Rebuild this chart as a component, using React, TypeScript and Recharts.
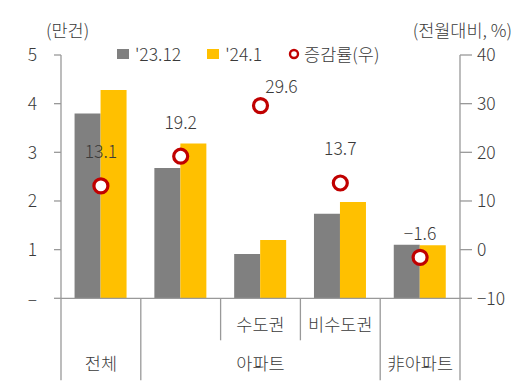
import { ComposedChart, Bar, Line, XAxis, YAxis, Legend, LabelList } from "recharts";

const CATEGORIES = ["전체", "아파트", "수도권", "비수도권", "非아파트"];
const SUB_LABELS = ["", "", "수도권", "비수도권", ""];
const GROUPS = [
  { name: "전체", first: 0, last: 0 },
  { name: "아파트", first: 1, last: 3 },
  { name: "非아파트", first: 4, last: 4 },
];
const DEC_2023 = [3.8, 2.68, 0.91, 1.74, 1.1];
const JAN_2024 = [4.28, 3.18, 1.2, 1.98, 1.09];
const CHANGE_RATE = [13.1, 19.2, 29.6, 13.7, -1.6];
const LEFT_TICKS = [0, 1, 2, 3, 4, 5];
const RIGHT_TICKS = [-10, 0, 10, 20, 30, 40];

const data = CATEGORIES.map((name, i) => ({
  name,
  dec: DEC_2023[i],
  jan: JAN_2024[i],
  rate: CHANGE_RATE[i],
}));

const W = 532;
const H = 389;
const LEFT_W = 61;
const RIGHT_W = 72;
const PLOT_W = W - LEFT_W - RIGHT_W;
const FONT = "'Noto Sans CJK KR', 'Noto Sans', sans-serif";
const TEXT = "#3a3a3a";
const AXIS = "#999";
const FS = 17.5;
const WEIGHT = 300;

// label nudges for the rate markers (dx, dy)
const LABEL_SHIFT = [[0, -35], [0, -35], [21, -20], [0, -35], [0, -25]];

const fmt = (v: number) => (v < 0 ? "−" + Math.abs(v) : String(v));

function CategoryTick(props: any) {
  const { x, y, index } = props;
  const step = PLOT_W / CATEGORIES.length;
  const left = x - step / 2;
  const g = GROUPS.find((g) => index >= g.first && index <= g.last)!;
  const startsGroup = g.first === index;
  const showGroup = (g.first + g.last) / 2 === index;
  return (
    <g>
      <line x1={left} x2={left} y1={y} y2={startsGroup ? y + 82 : y + 42} stroke={AXIS} strokeWidth={1.3} />
      {index === CATEGORIES.length - 1 && (
        <line x1={left + step} x2={left + step} y1={y} y2={y + 82} stroke={AXIS} strokeWidth={1.3} />
      )}
      {SUB_LABELS[index] && (
        <text x={x} y={y + 25} textAnchor="middle" dominantBaseline="central" fill={TEXT} fontSize={FS} fontWeight={WEIGHT}>
          {SUB_LABELS[index]}
        </text>
      )}
      {showGroup && (
        <text x={x} y={y + 64} textAnchor="middle" dominantBaseline="central" fill={TEXT} fontSize={FS} fontWeight={WEIGHT}>
          {g.name}
        </text>
      )}
    </g>
  );
}

function RateLabel(props: any) {
  const { x, y, value, index } = props;
  const [dx, dy] = LABEL_SHIFT[index];
  return (
    <text x={x + dx} y={y + dy} textAnchor="middle" dominantBaseline="central" fill={TEXT} fontSize={FS} fontWeight={WEIGHT}>
      {fmt(value)}
    </text>
  );
}

function LegendBox(props: any) {
  const items = props.payload || [];
  return (
    <div style={{ display: "flex", alignItems: "center", fontSize: FS, fontWeight: WEIGHT, lineHeight: 1, color: TEXT, fontFamily: FONT, whiteSpace: "nowrap" }}>
      {items.map((it: any, i: number) => (
        <div key={i} style={{ display: "flex", alignItems: "center", marginRight: 26 }}>
          {it.type === "line" ? (
            <svg width={12} height={12} style={{ marginRight: 4 }}>
              <circle cx={6} cy={6} r={4} fill="#fff" stroke="#C00000" strokeWidth={2.4} />
            </svg>
          ) : (
            <span style={{ display: "inline-block", width: 12, height: 10, background: it.color, marginRight: 6 }} />
          )}
          <span>{it.value}</span>
        </div>
      ))}
    </div>
  );
}

const headStyle = { position: "absolute" as const, top: 21, fontSize: FS, fontWeight: WEIGHT, lineHeight: 1, color: TEXT };

export default function App() {
  return (
    <div style={{ position: "absolute", left: 0, top: 0, width: W, height: H, background: "#fff", fontFamily: FONT }}>
      <div style={{ ...headStyle, left: 46 }}>(만건)</div>
      <div style={{ ...headStyle, right: 20 }}>(전월대비, %)</div>
      <ComposedChart
        width={W}
        height={H}
        data={data}
        margin={{ top: 55, right: 0, bottom: 0, left: 0 }}
        barCategoryGap="17%"
        barGap={0}
      >
        <XAxis
          dataKey="name"
          height={90.7}
          tickSize={0}
          tickMargin={0}
          tickLine={false}
          axisLine={{ stroke: AXIS, strokeWidth: 1.3 }}
          tick={<CategoryTick />}
          interval={0}
        />
        <YAxis
          yAxisId="left"
          width={LEFT_W}
          domain={[0, 5]}
          ticks={LEFT_TICKS}
          tickSize={7}
          tickMargin={17}
          tickFormatter={(v: number) => (v === 0 ? "–" : String(v))}
          tick={{ fill: TEXT, fontSize: FS, fontWeight: WEIGHT }}
          axisLine={{ stroke: AXIS, strokeWidth: 1.3 }}
          tickLine={{ stroke: AXIS, strokeWidth: 1.3 }}
        />
        <YAxis
          yAxisId="right"
          orientation="right"
          width={RIGHT_W}
          domain={[-10, 40]}
          ticks={RIGHT_TICKS}
          tickSize={12}
          tickMargin={5}
          tickFormatter={fmt}
          tick={{ fill: TEXT, fontSize: FS, fontWeight: WEIGHT }}
          axisLine={{ stroke: AXIS, strokeWidth: 1.3 }}
          tickLine={{ stroke: AXIS, strokeWidth: 1.3 }}
        />
        <Legend
          layout="horizontal"
          verticalAlign="middle"
          align="center"
          content={<LegendBox />}
          wrapperStyle={{ position: "absolute", top: 45, left: 117, width: "auto" }}
        />
        <Bar yAxisId="left" dataKey="dec" name="'23.12" fill="#808080" isAnimationActive={false} />
        <Bar yAxisId="left" dataKey="jan" name="'24.1" fill="#FFC000" isAnimationActive={false} />
        <Line
          yAxisId="right"
          dataKey="rate"
          name="증감률(우)"
          stroke="none"
          legendType="line"
          dot={{ r: 7, stroke: "#C00000", strokeWidth: 3.2, fill: "#fff" }}
          activeDot={false}
          isAnimationActive={false}
        >
          <LabelList dataKey="rate" content={<RateLabel />} />
        </Line>
      </ComposedChart>
    </div>
  );
}
